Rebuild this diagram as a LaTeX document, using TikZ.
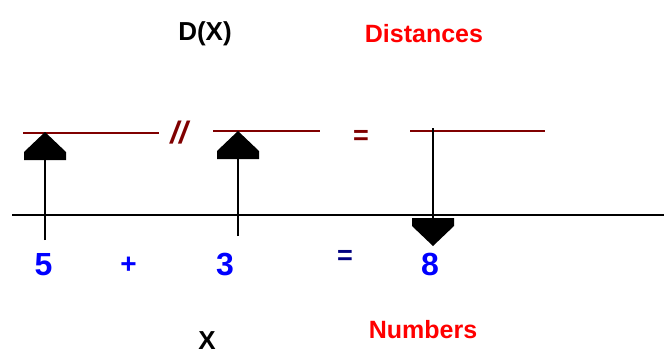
\documentclass[tikz,border=0pt]{standalone}
\usepackage{fontspec}
\setmainfont{Liberation Sans}
\usetikzlibrary{arrows.meta}
\definecolor{lrbrown}{HTML}{800000}
\definecolor{lrred}{HTML}{FF0000}
\definecolor{lrblue}{HTML}{0000FF}
\definecolor{lrnavy}{HTML}{000080}
% blunt pentagon head for the vectors
\pgfdeclarearrow{
  name = Pent,
  setup code = {
    \pgfarrowssettipend{0pt}
    \pgfarrowssetbackend{-28pt}
    \pgfarrowssetlineend{-20pt}
    \pgfarrowshullpoint{0pt}{0pt}
    \pgfarrowshullpoint{-28pt}{21pt}
    \pgfarrowshullpoint{-28pt}{-21pt}
  },
  drawing code = {
    \pgfpathmoveto{\pgfpointorigin}
    \pgfpathlineto{\pgfpoint{-20pt}{21pt}}
    \pgfpathlineto{\pgfpoint{-28pt}{21pt}}
    \pgfpathlineto{\pgfpoint{-28pt}{-21pt}}
    \pgfpathlineto{\pgfpoint{-20pt}{-21pt}}
    \pgfpathclose
    \pgfusepathqfill
  }
}

\begin{document}
\begin{tikzpicture}[x=1pt, y=-1pt,
  num/.style={text=lrblue, font=\fontsize{32}{32}\selectfont\bfseries, anchor=base, inner sep=0pt},
  op/.style={font=\fontsize{28}{28}\selectfont\bfseries, inner sep=0pt},
  lbl/.style={text=lrred, font=\fontsize{25}{25}\selectfont\bfseries, anchor=base, inner sep=0pt},
  var/.style={font=\fontsize{26}{26}\selectfont\bfseries, anchor=base, inner sep=0pt},
  dist/.style={draw=lrbrown, line width=2pt},
  axis/.style={draw, line width=2pt},
  vec/.style={draw, line width=2pt, -{Pent}}]
  \useasboundingbox (0,0) rectangle (664,354);
  % titles
  \node[var] (dx) at (205,40) {D(X)};
  \node[lbl] (dist) at (424,42) {Distances};
  \node[var] (x) at (207,349) {X};
  \node[lbl] (nums) at (423,338) {Numbers};
  % number line
  \coordinate (axl) at (12,215);
  \coordinate (axr) at (664,215);
  \draw[axis] (axl) -- (axr);
  % distances
  \coordinate (d1l) at (23,133);  \coordinate (d1r) at (159,133);
  \coordinate (d2l) at (213,131); \coordinate (d2r) at (320,131);
  \coordinate (d3l) at (410,131); \coordinate (d3r) at (545,131);
  \draw[dist] (d1l) -- (d1r);
  \draw[dist] (d2l) -- (d2r);
  \draw[dist] (d3l) -- (d3r);
  \node[op, text=lrbrown, font=\fontsize{31}{31}\selectfont\bfseries\itshape] (slash) at (179,133) {//};
  \node[op, text=lrbrown, font=\fontsize{27}{27}\selectfont\bfseries] (eqd) at (361,137) {=};
  % vectors
  \coordinate (v1b) at (45,240);  \coordinate (v1t) at (45,132);
  \coordinate (v2b) at (238,236); \coordinate (v2t) at (238,131);
  \coordinate (v3t) at (433,128); \coordinate (v3b) at (433,246);
  \draw[vec] (v1b) -- (v1t);
  \draw[vec] (v2b) -- (v2t);
  \draw[vec] (v3t) -- (v3b);
  % numbers
  \node[num] (five) at (43.5,275) {5};
  \node[op, text=lrblue] (plus) at (128.5,265.5) {+};
  \node[num] (three) at (225,275) {3};
  \node[op, text=lrnavy, font=\fontsize{27}{27}\selectfont\bfseries] (eqn) at (345,257) {=};
  \node[num] (eight) at (430,275) {8};
\end{tikzpicture}
\end{document}
